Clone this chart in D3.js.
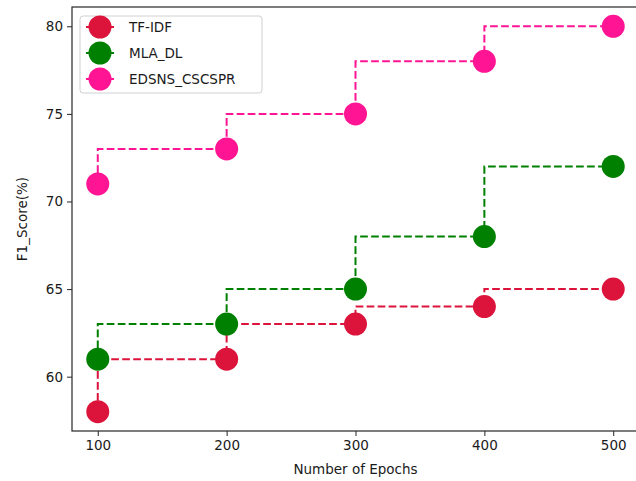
<!DOCTYPE html>
<html>
<head>
  <meta charset="UTF-8">
  <script src="https://d3js.org/d3.v7.min.js"></script>
</head>
<body style="margin:0;background:#fff">
  <svg id="chart" width="636" height="481"></svg>
<style>
  text { font-family: 'DejaVu Sans', sans-serif; fill: #1a1a1a; }
</style>
<script>
  // data
  const epochs = [100, 200, 300, 400, 500];
  const seriesNames = ['TF-IDF', 'MLA_DL', 'EDSNS_CSCSPR'];
  const tfidf = [58, 61, 63, 64, 65];
  const mladl = [61, 63, 65, 68, 72];
  const edsns = [71, 73, 75, 78, 80];
  const yTicks = [60, 65, 70, 75, 80];
  const colors = ['#DC143C', '#008000', '#FF1493'];

  const series = [tfidf, mladl, edsns].map((v, i) => ({
    name: seriesNames[i], color: colors[i],
    points: epochs.map((e, j) => ({ x: e, y: v[j] }))
  }));

  const margin = { top: 7, right: -3, bottom: 50, left: 72 };
  const W = 636, H = 481;

  const svg = d3.select('#chart');

  const x = d3.scaleLinear().domain([80, 520]).range([margin.left, W - margin.right]);
  const y = d3.scaleLinear().domain([56.9, 81.1]).range([H - margin.bottom, margin.top]);

  // axes
  const xAxis = svg.append('g')
    .attr('transform', `translate(0,${H - margin.bottom})`)
    .call(d3.axisBottom(x).tickValues(epochs).tickSize(5).tickPadding(4));
  const yAxis = svg.append('g')
    .attr('transform', `translate(${margin.left},0)`)
    .call(d3.axisLeft(y).tickValues(yTicks).tickSize(5).tickPadding(4));
  [xAxis, yAxis].forEach(a => {
    a.select('.domain').remove();
    a.selectAll('text').style('font-size', '13.5px').style('fill', '#1a1a1a');
    a.selectAll('line').attr('stroke', '#262626').attr('stroke-width', 1);
  });

  // frame
  svg.append('rect')
    .attr('x', margin.left).attr('y', margin.top)
    .attr('width', W - margin.right - margin.left)
    .attr('height', H - margin.bottom - margin.top)
    .attr('fill', 'none').attr('stroke', '#262626').attr('stroke-width', 1.2);

  // step lines (steps-pre)
  const line = d3.line().x(d => x(d.x)).y(d => y(d.y)).curve(d3.curveStepBefore);

  series.forEach(s => {
    svg.append('path')
      .datum(s.points)
      .attr('d', line)
      .attr('fill', 'none')
      .attr('stroke', s.color)
      .attr('stroke-width', 2)
      .attr('stroke-dasharray', '7.7,3.3');
  });
  series.forEach(s => {
    svg.selectAll(null)
      .data(s.points)
      .join('circle')
      .attr('cx', d => x(d.x))
      .attr('cy', d => y(d.y))
      .attr('r', 11.5)
      .attr('fill', s.color);
  });

  // legend
  const lg = svg.append('g').attr('transform', 'translate(80,16)');
  lg.append('rect')
    .attr('width', 182).attr('height', 77).attr('rx', 3)
    .attr('fill', 'rgba(255,255,255,0.8)')
    .attr('stroke', '#d0d0d0').attr('stroke-width', 1);
  series.forEach((s, i) => {
    const row = lg.append('g').attr('transform', `translate(0,${11 + i * 26})`);
    row.append('line')
      .attr('x1', 6).attr('x2', 34)
      .attr('stroke', s.color).attr('stroke-width', 2)
      .attr('stroke-dasharray', '7.7,3.3');
    row.append('circle').attr('cx', 20).attr('r', 11.5).attr('fill', s.color);
    row.append('text')
      .attr('x', 49).attr('dy', '0.35em')
      .style('font-size', '13.5px')
      .text(s.name);
  });

  // axis labels
  svg.append('text')
    .attr('x', (margin.left + W - margin.right) / 2)
    .attr('y', 474)
    .attr('text-anchor', 'middle')
    .style('font-size', '13.5px')
    .text('Number of Epochs');
  svg.append('text')
    .attr('transform', `translate(27,${(margin.top + H - margin.bottom) / 2}) rotate(-90)`)
    .attr('text-anchor', 'middle')
    .style('font-size', '13.5px')
    .text('F1_Score(%)');
</script>
</body>
</html>
